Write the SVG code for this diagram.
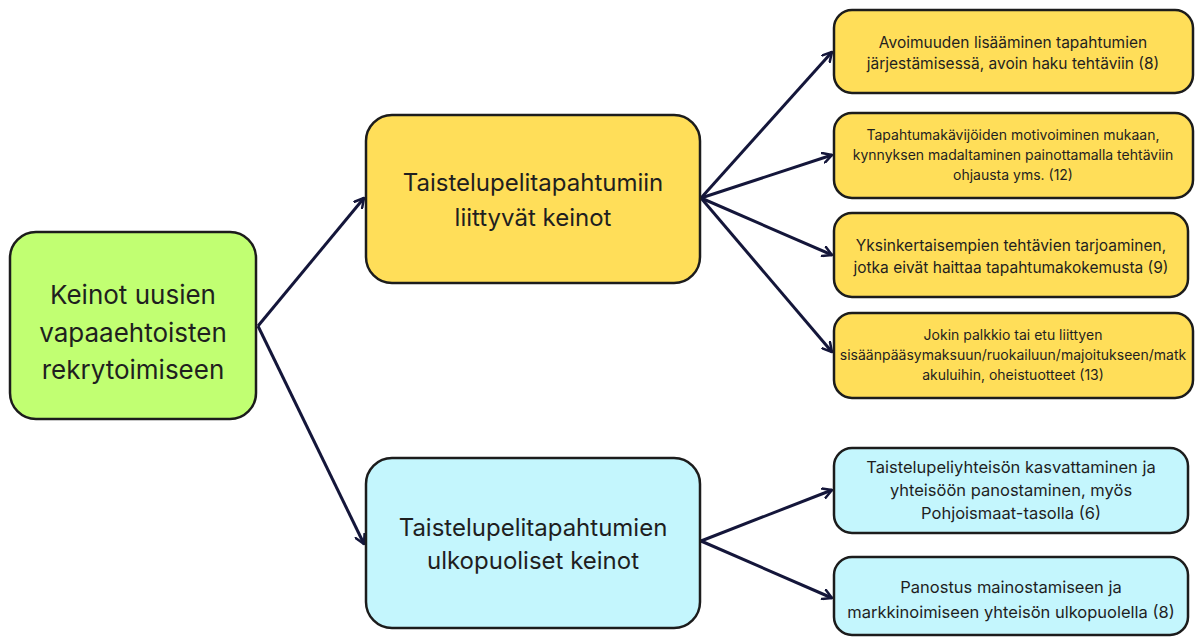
<svg xmlns="http://www.w3.org/2000/svg" width="1196" height="637" viewBox="0 0 1196 637">
<style>
.box{stroke:#1c1c1c;stroke-width:2.5}
.g{fill:#c1ff72}.y{fill:#ffde59}.c{fill:#c4f6fd}
text{font-family:Inter,"Open Sans","Liberation Sans",sans-serif;fill:#1f1f1f;text-anchor:middle}
.l{font-size:24px}.xl{font-size:26px}.m{font-size:15.5px}.s{font-size:14px}.ms{font-size:16.5px}
.conn line{stroke:#14163a;stroke-width:3;fill:none;marker-end:url(#ah)}
</style>
<defs>
<marker id="ah" viewBox="0 0 12 12" refX="10" refY="6" markerWidth="12" markerHeight="12" markerUnits="userSpaceOnUse" orient="auto">
<path d="M1,1 L10,6 L1,11" fill="none" stroke="#14163a" stroke-width="2.5" stroke-linecap="round" stroke-linejoin="round"/>
</marker>
</defs>
<rect width="1196" height="637" fill="#ffffff"/>
<g class="conn">
<line x1="258" y1="326" x2="364" y2="198"/>
<line x1="258" y1="326" x2="364" y2="544"/>
<line x1="701" y1="198" x2="832" y2="52"/>
<line x1="701" y1="198" x2="832" y2="155"/>
<line x1="701" y1="198" x2="832" y2="255"/>
<line x1="701" y1="198" x2="832" y2="352"/>
<line x1="701" y1="541" x2="832" y2="490"/>
<line x1="701" y1="541" x2="832" y2="598"/>
</g>
<g id="root">
<rect class="box g" x="10" y="232" width="246" height="187" rx="26"/>
<text class="xl" x="133" y="304">Keinot uusien</text>
<text class="xl" x="133" y="342">vapaaehtoisten</text>
<text class="xl" x="133" y="379">rekrytoimiseen</text>
</g>
<g id="mid1">
<rect class="box y" x="366" y="115" width="334" height="168" rx="26"/>
<text class="l" x="533" y="191">Taistelupelitapahtumiin</text>
<text class="l" x="533" y="226">liittyvät keinot</text>
</g>
<g id="mid2">
<rect class="box c" x="366" y="458" width="334" height="170" rx="26"/>
<text class="l" x="533" y="536">Taistelupelitapahtumien</text>
<text class="l" x="533" y="569">ulkopuoliset keinot</text>
</g>
<g id="r1">
<rect class="box y" x="834" y="10" width="359" height="83" rx="18"/>
<text class="m" x="1013" y="48">Avoimuuden lisääminen tapahtumien</text>
<text class="m" x="1013" y="69">järjestämisessä, avoin haku tehtäviin (8)</text>
</g>
<g id="r2">
<rect class="box y" x="834" y="113" width="359" height="85" rx="18"/>
<text class="s" x="1013" y="140">Tapahtumakävijöiden motivoiminen mukaan,</text>
<text class="s" x="1013" y="160">kynnyksen madaltaminen painottamalla tehtäviin</text>
<text class="s" x="1013" y="180">ohjausta yms. (12)</text>
</g>
<g id="r3">
<rect class="box y" x="834" y="213" width="354" height="84" rx="18"/>
<text class="m" x="1011" y="251">Yksinkertaisempien tehtävien tarjoaminen,</text>
<text class="m" x="1011" y="273">jotka eivät haittaa tapahtumakokemusta (9)</text>
</g>
<g id="r4">
<rect class="box y" x="834" y="313" width="359" height="85" rx="18"/>
<text class="s" x="1013" y="340">Jokin palkkio tai etu liittyen</text>
<text class="s" x="1013" y="360">sisäänpääsymaksuun/ruokailuun/majoitukseen/matk</text>
<text class="s" x="1013" y="380">akuluihin, oheistuotteet (13)</text>
</g>
<g id="r5">
<rect class="box c" x="834" y="448" width="354" height="85" rx="18"/>
<text class="ms" x="1011" y="473">Taistelupeliyhteisön kasvattaminen ja</text>
<text class="ms" x="1011" y="496">yhteisöön panostaminen, myös</text>
<text class="ms" x="1011" y="519">Pohjoismaat-tasolla (6)</text>
</g>
<g id="r6">
<rect class="box c" x="834" y="557" width="354" height="78" rx="18"/>
<text class="ms" x="1011" y="593">Panostus mainostamiseen ja</text>
<text class="ms" x="1011" y="618">markkinoimiseen yhteisön ulkopuolella (8)</text>
</g>
</svg>
